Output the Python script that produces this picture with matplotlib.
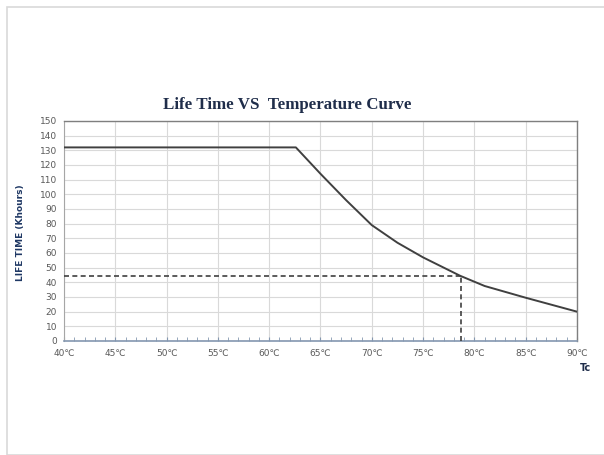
import matplotlib.pyplot as plt
from matplotlib.ticker import MultipleLocator
from matplotlib.patches import Rectangle

# curve
temp = [40, 62.6, 65, 67.5, 70, 72.5, 75, 78.6, 81, 85, 90]
life = [132, 132, 114, 96, 79, 67, 57, 44.5, 37.5, 29.5, 20]

# marked operating point
tc_mark = 78.7
life_mark = 44

xticks = [40, 45, 50, 55, 60, 65, 70, 75, 80, 85, 90]
xlabels = [f"{t}℃" for t in xticks]

fig = plt.figure(figsize=(6.04, 4.55), dpi=100)
fig.patches.append(Rectangle((7 / 604, 0), 1, 1 - 7 / 455, transform=fig.transFigure,
                             fill=False, edgecolor='#d9d9d9', linewidth=1.2))

ax = fig.add_axes([64 / 604, 1 - 341 / 455, 513 / 604, 220 / 455])

ax.plot(temp, life, color='#404040', linewidth=1.4, zorder=3)
ax.plot([40, tc_mark], [life_mark, life_mark], color='#404040', linestyle=(0, (3, 2)), linewidth=1.2, zorder=3)
ax.plot([tc_mark, tc_mark], [0, life_mark], color='#404040', linestyle=(0, (3, 2)), linewidth=1.2, zorder=3)

ax.set_xlim(40, 90)
ax.set_ylim(0, 150)
ax.set_xticks(xticks)
ax.set_xticklabels(xlabels)
ax.xaxis.set_minor_locator(MultipleLocator(1))
ax.yaxis.set_major_locator(MultipleLocator(10))

ax.grid(True, which='major', color='#d9d9d9', linewidth=0.8)
ax.set_axisbelow(True)

ax.tick_params(axis='x', which='both', direction='in', length=3, color='#8497b0',
               labelsize=6.5, labelcolor='#595959', pad=6)
ax.tick_params(axis='y', which='both', length=0, labelsize=6.5, labelcolor='#595959', pad=5)

for s in ['top', 'right']:
    ax.spines[s].set_color('#7f7f7f')
    ax.spines[s].set_linewidth(1.0)
ax.spines['left'].set_color('#a6a6a6')
ax.spines['bottom'].set_color('#8497b0')
ax.spines['bottom'].set_linewidth(1.2)

fig.text(287 / 604, 1 - 105 / 455, 'Life Time VS  Temperature Curve', family='Liberation Serif',
         fontweight='bold', fontsize=12.2, color='#1f2d4a', ha='center', va='center')
fig.text(21 / 604, 1 - 233 / 455, 'LIFE TIME (Khours)', rotation=90, fontweight='bold',
         fontsize=6.5, color='#1f3864', ha='center', va='center')
fig.text(585 / 604, 1 - 368 / 455, 'Tc', fontweight='bold', fontsize=7,
         color='#1f2d4a', ha='center', va='center')

fig.savefig('out.png', dpi=100)
